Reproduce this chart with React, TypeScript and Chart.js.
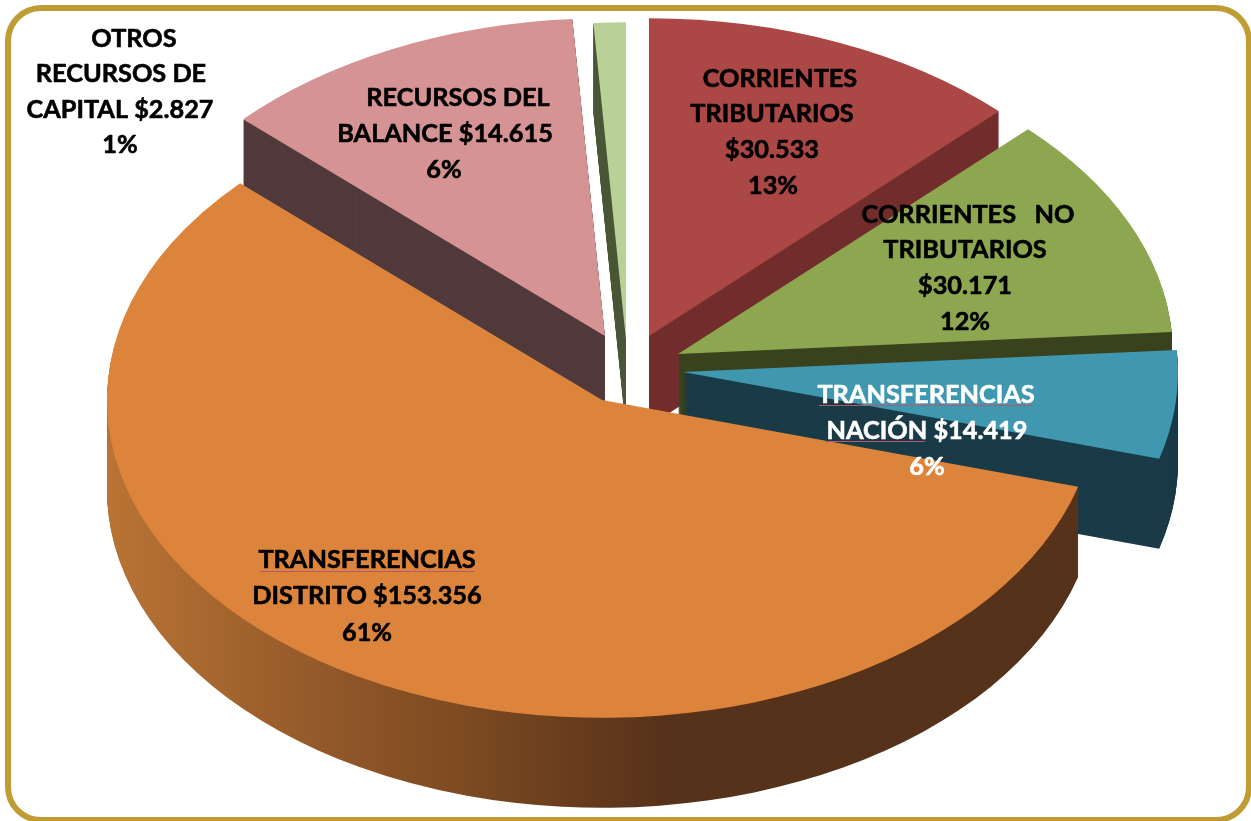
import React, { useEffect, useRef } from "react";
import { Chart, registerables } from "chart.js";

Chart.register(...registerables);

const categories = [
  "Corrientes tributarios",
  "Corrientes no tributarios",
  "Transferencias Nación",
  "Transferencias Distrito",
  "Recursos del balance",
  "Otros recursos de capital",
];

// Share of the circle each slice occupies in the picture, in percent.
// (The drawn wedges do not follow the printed figures exactly, e.g. the balance slice.)
const drawnShares = [12.5, 11.4, 5.5, 57.55, 12.0, 1.05];

const labelLines = [
  ["CORRIENTES", "TRIBUTARIOS", "$30.533", "13%"],
  ["CORRIENTES   NO", "TRIBUTARIOS", "$30.171", "12%"],
  ["TRANSFERENCIAS", "NACIÓN $14.419", "6%"],
  ["TRANSFERENCIAS", "DISTRITO $153.356", "61%"],
  ["RECURSOS DEL", "BALANCE $14.615", "6%"],
  ["OTROS", "RECURSOS DE", "CAPITAL $2.827", "1%"],
];

const topColors = ["#ab4744", "#8ca74f", "#3f98b0", "#dd843c", "#d59393", "#b9d096"];
const wallColors = ["#722d2d", "#3a421e", "#1a3b47", "#57321a", "#523a3c", "#4b5838"];

// Apex of each exploded slice on the page.
const apexX = [649, 678, 683, 602, 605, 626];
const apexY = [336, 354, 372, 400, 336, 340];
const drawOrder = [5, 4, 0, 1, 2, 3];
const RADIUS = 495;
const TILT = 0.642;
const DEPTH = 90;

const labelX = [
  [780, 772, 772, 773],
  [968, 965, 965, 965],
  [926, 927, 927],
  [367, 367, 367],
  [458, 445, 444],
  [134, 121, 120, 120],
];
const labelY = [
  [79, 114, 150, 186],
  [215, 250, 286, 322],
  [395, 431, 467],
  [560, 596, 633],
  [98, 134, 170],
  [39, 74, 110, 145],
];
const labelColors = ["#000", "#000", "#fff", "#000", "#000", "#000"];

// Proofing underlines visible in the picture: [x from, x to, y]
const underlines = [
  [819, 1034, 405],
  [825, 925, 441],
  [260, 475, 571],
];

const pie3d = {
  id: "pie3d",
  beforeDatasetsDraw(chart: any) {
    const ctx = chart.ctx;
    const arcs = chart.getDatasetMeta(0).data;
    drawOrder.forEach((i) => {
      const arc = arcs[i];
      const place = (dy: number) => {
        ctx.translate(apexX[i], apexY[i] + dy);
        ctx.scale(1, TILT);
        ctx.translate(-arc.x, -arc.y);
      };
      let wall: any = wallColors[i];
      if (i === 3) {
        const g = ctx.createLinearGradient(arc.x - RADIUS, 0, arc.x + RADIUS, 0);
        g.addColorStop(0, "#b97434");
        g.addColorStop(0.24, "#8f5628");
        g.addColorStop(0.37, "#7b4921");
        g.addColorStop(0.56, "#57321a");
        g.addColorStop(1, "#57321a");
        wall = g;
      }
      const wallArc = Object.create(arc, {
        options: { value: Object.assign({}, arc.options, { backgroundColor: wall }) },
      });
      for (let d = DEPTH; d > 0; d--) {
        ctx.save();
        place(d);
        wallArc.draw(ctx);
        ctx.restore();
      }
      ctx.save();
      place(0);
      arc.draw(ctx);
      ctx.restore();
    });
    return false;
  },
  afterDraw(chart: any) {
    const ctx = chart.ctx;
    ctx.save();
    ctx.strokeStyle = "#b5586a";
    ctx.lineWidth = 1;
    underlines.forEach(([a, b, y]) => {
      ctx.beginPath();
      ctx.moveTo(a, y + 0.5);
      ctx.lineTo(b, y + 0.5);
      ctx.stroke();
    });
    ctx.font = "bold 25.3px Lato";
    ctx.textAlign = "center";
    ctx.textBaseline = "middle";
    ctx.lineWidth = 0.6;
    ctx.lineJoin = "round";
    labelLines.forEach((lines, i) => {
      ctx.fillStyle = labelColors[i];
      ctx.strokeStyle = labelColors[i];
      lines.forEach((line, j) => {
        ctx.fillText(line, labelX[i][j], labelY[i][j]);
        ctx.strokeText(line, labelX[i][j], labelY[i][j]);
      });
    });
    ctx.restore();
  },
};

export default function App() {
  const ref = useRef<HTMLCanvasElement>(null);
  useEffect(() => {
    document.documentElement.style.overflow = "hidden";
    const chart = new Chart(ref.current as HTMLCanvasElement, {
      type: "pie",
      data: {
        labels: categories,
        datasets: [
          {
            data: drawnShares,
            backgroundColor: topColors,
            borderWidth: 0,
            radius: RADIUS,
          } as any,
        ],
      },
      options: {
        responsive: false,
        animation: false,
        rotation: 0,
        plugins: { legend: { display: false }, tooltip: { enabled: false }, title: { display: false } },
      },
      plugins: [pie3d],
    } as any);
    return () => chart.destroy();
  }, []);
  return (
    <div style={{ position: "fixed", left: 0, top: 0, width: 1251, height: 821, overflow: "hidden", background: "#fff" }}>
      <canvas ref={ref} width={1251} height={821} style={{ position: "absolute", left: 0, top: 0 }} />
      <div
        style={{
          position: "absolute",
          left: 5,
          top: 5,
          width: 1247,
          height: 818,
          boxSizing: "border-box",
          border: "6px solid #c09c35",
          borderRadius: 36,
          pointerEvents: "none",
        }}
      />
    </div>
  );
}
